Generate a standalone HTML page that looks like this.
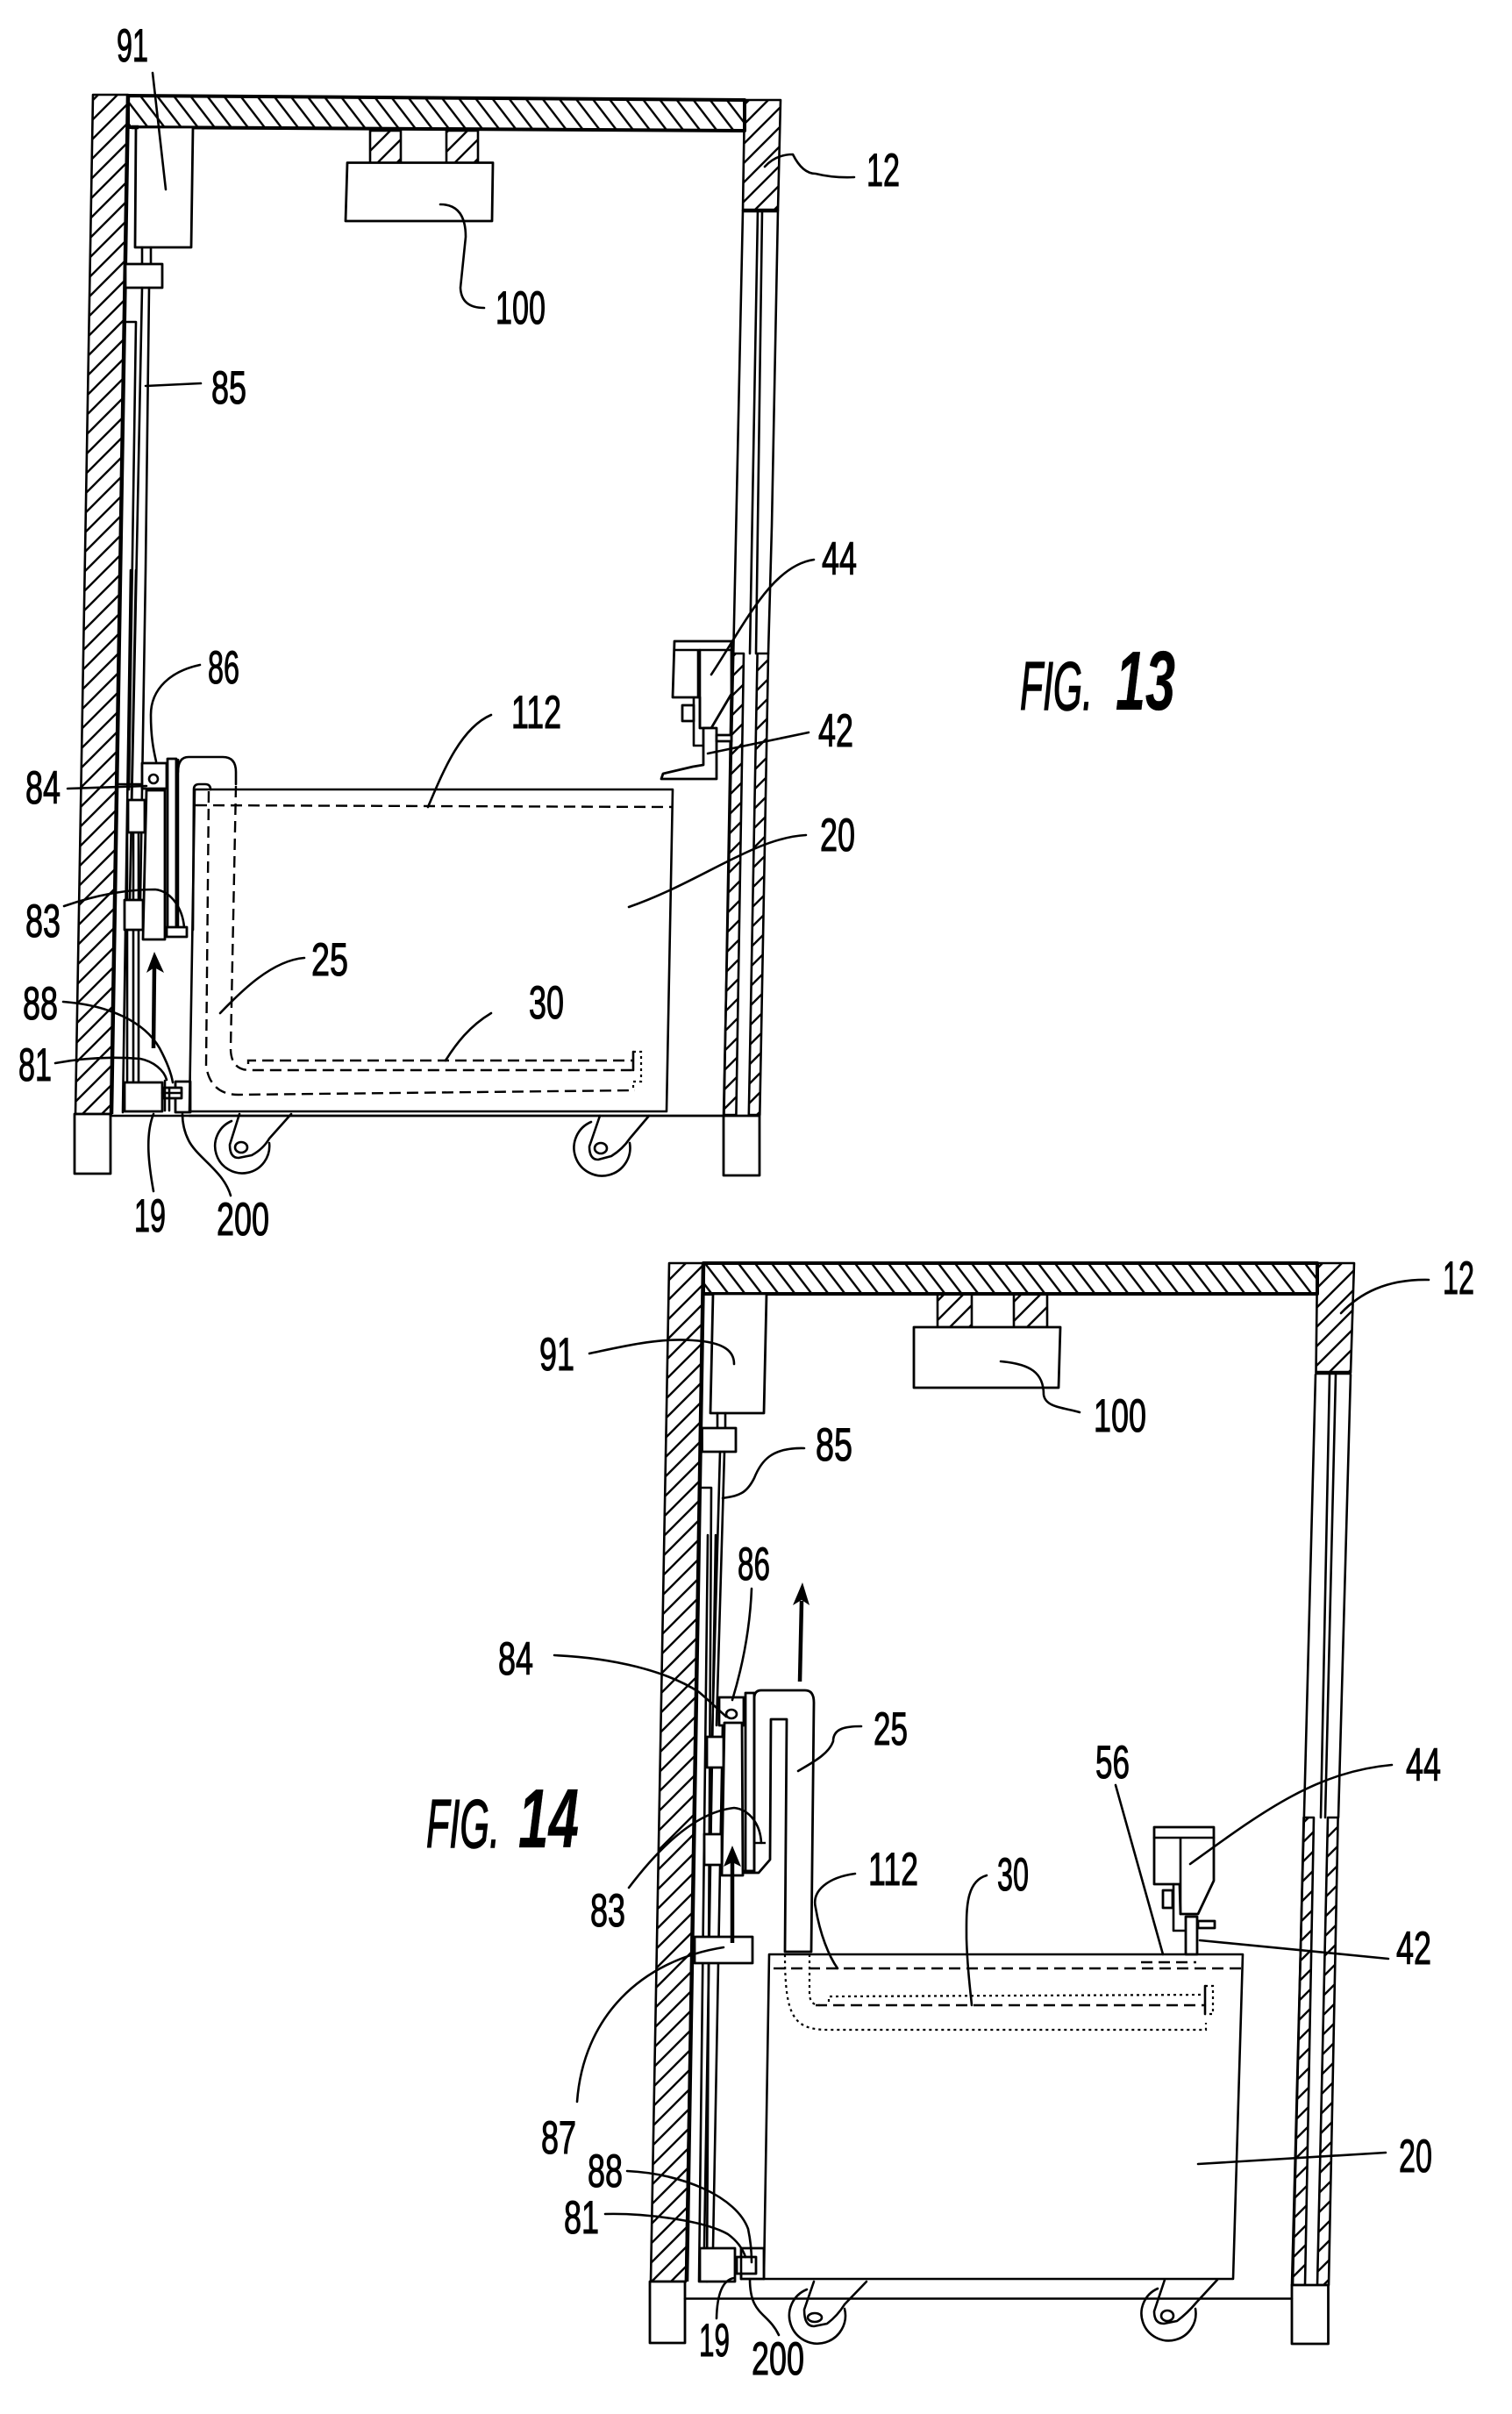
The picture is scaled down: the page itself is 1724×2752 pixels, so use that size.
<!DOCTYPE html>
<html><head><meta charset="utf-8">
<style>
html,body{margin:0;padding:0;background:#fff;width:1724px;height:2752px;overflow:hidden}
svg{display:block}
.l{fill:none;stroke:#000;stroke-width:2.6;stroke-linecap:round;stroke-linejoin:round}
.t{fill:none;stroke:#000;stroke-width:4.5;stroke-linejoin:round}
.w{fill:#fff;stroke:#000;stroke-width:2.8;stroke-linejoin:round}
.d{fill:none;stroke:#000;stroke-width:2.4;stroke-dasharray:13 7}
.o{fill:none;stroke:#000;stroke-width:2.2;stroke-dasharray:3 4}
.hl{fill:url(#hl);stroke:#000;stroke-width:2.6;stroke-linejoin:round}
.hr{fill:url(#hr);stroke:#000;stroke-width:4;stroke-linejoin:round}
text{font-family:"Liberation Sans",sans-serif;font-size:53px;fill:#000;stroke:#000;stroke-width:1.1}
.f{font-style:italic;font-size:78px;stroke-width:1.4}
.g{font-style:italic;font-size:96px;font-weight:bold;stroke-width:.3}
</style></head><body>
<svg width="1724" height="2752" viewBox="0 0 1724 2752" xmlns="http://www.w3.org/2000/svg">
<defs>
<pattern id="hl" width="22" height="22" patternUnits="userSpaceOnUse"><path d="M-4 4L4 -4M0 22L22 0M18 26L26 18" stroke="#000" stroke-width="2.4"/></pattern>
<pattern id="hr" width="19" height="19" patternUnits="userSpaceOnUse" patternTransform="scale(1 1.3)"><path d="M-4 15L4 23M0 0L19 19M15 -4L23 4" stroke="#000" stroke-width="2.2"/></pattern>
</defs>

<!-- FIG 13 -->
<g>
<polygon points="106,108 146,108 127,1270 86,1270" class="hl"/>
<polygon points="146,109 849,114 849,149 146,145" class="hr"/>
<polygon points="849,114 890,114 887,240 847,240" class="hl"/>
<path class="t" d="M146 108L127 1270M847 240H887"/>
<path class="l" d="M847 240L825 1272M887 240L880 600L876 745M864 240L855 745M869 240L862 745"/>
<polygon points="834.5,745 848,745 839.4,1271 825.5,1271" class="hl"/>
<polygon points="863.6,745 876,745 866.3,1271 853.8,1271" class="hl"/>
<polygon points="85,1270 126,1270 126,1338 85,1338" class="w"/>
<polygon points="825,1272 866,1272 866,1340 825,1340" class="w"/>
<path class="l" d="M126 1272H825"/>

<rect x="422" y="149" width="35" height="37" class="hl"/>
<rect x="509" y="149" width="36" height="37" class="hl"/>
<polygon points="396,185.5 562,185.5 561,252 394,252" class="w"/>

<polygon points="155,145 220,145 218,282 154,282" class="w"/>
<path class="t" d="M150 145H158" />
<path class="l" d="M162 282V301M172 282V301"/>
<rect x="143" y="301" width="42" height="27" class="w"/>
<path class="l" d="M162 328L148 1026M170 328L166 650L160 1026M143 367H155L147 900"/>
<path class="l" d="M149 650L140 1268M155 650L150 912M145 949V1026M152 949V1026M158 949V1026M145 1060V1234M152 1060V1234M158 1060V1234"/>
<path class="l" d="M133 894H188"/>
<rect x="146" y="912" width="19" height="37" class="w"/>
<rect x="142" y="1026" width="21" height="34" class="w"/>
<rect x="162" y="870" width="28" height="29" class="w"/>
<ellipse cx="175" cy="888" rx="5" ry="5" class="l"/>
<polygon points="167,901 188,901 188,1071 163,1071" class="w"/>
<rect x="191" y="865" width="10" height="199" class="w"/>
<path class="t" d="M202 865V1064"/>
<rect x="190" y="1057" width="23" height="11" class="w"/>
<path d="M176 1085L187 1109L176 1103L167 1109Z" fill="#000"/>
<path class="t" d="M175 1195L176 1100"/>
<rect x="142" y="1234" width="43" height="33" class="w"/>
<rect x="200" y="1233" width="17" height="35" class="w"/>
<rect x="186" y="1240" width="21" height="12" class="w"/>
<path class="l" d="M188 1232V1266M193 1240V1266M185 1246H207"/>

<path class="l" d="M222 900H767L760 1267H216L222 900"/>
<path class="l" d="M216 1272H825"/>
<path class="l" d="M203 880Q203 863 215 863H254Q269 863 269 880V894"/>
<path class="l" d="M220 1060L221 900Q221 894 227 894H234Q240 894 240 900"/>
<path class="d" d="M269 896L263 1195Q263 1220 285 1220H724"/>
<path class="d" d="M238 902L235 1215Q240 1248 272 1248L724 1243"/>
<path class="d" d="M283 1213V1209H722"/>
<path class="o" d="M722 1199H731V1233H722V1243"/>
<path class="l" d="M722 1199V1220"/>
<path class="d" d="M223 918L767 920"/>

<path class="l" d="M273 1270L262 1305Q262 1320 272 1320L287 1317Q300 1310 307 1298L332 1270"/>
<path class="l" d="M264 1278A31 31 0 1 0 307 1303"/>
<ellipse cx="275" cy="1308" rx="7" ry="6" class="l"/>
<path class="l" d="M684 1272L672 1307Q672 1322 682 1322L697 1318Q710 1310 718 1298L740 1272"/>
<path class="l" d="M674 1279A32 32 0 1 0 718 1303"/>
<ellipse cx="685" cy="1309" rx="7" ry="6" class="l"/>

<polygon points="769,731 834,731 834,791 811,830 798,830 798,795 767,795" class="w"/>
<path class="l" d="M769 741H834M796 741V795"/>
<path class="l" d="M798 741V830"/>
<rect x="778" y="804" width="13" height="18" class="w"/>
<path class="l" d="M791 796V850H805"/>
<path class="w" d="M802 830H817V888H754L756 882L790 874L802 872Z"/>
<rect x="817" y="838" width="17" height="7" class="w"/>

<path class="l" d="M174 83L189 216"/>
<path class="l" d="M872 190Q885 176 904 176Q915 198 930 198Q950 203 974 202"/>
<path class="l" d="M502 233Q531 233 531 270L525 328Q526 351 552 351"/>
<path class="l" d="M166 440L229 437"/>
<path class="l" d="M228 758C195 765 172 785 172 815C172 840 175 855 178 868"/>
<path class="l" d="M77 899L167 896"/>
<path class="l" d="M73 1033C110 1020 145 1014 177 1014C195 1016 208 1035 210 1057"/>
<path class="l" d="M72 1142C125 1146 165 1165 182 1195C190 1210 195 1222 197 1234"/>
<path class="l" d="M63 1212C100 1205 135 1205 160 1207C175 1210 187 1220 190 1231"/>
<path class="l" d="M175 1358C170 1330 165 1295 175 1270"/>
<path class="l" d="M263 1363C255 1335 225 1320 215 1300C210 1290 208 1280 208 1270"/>
<path class="l" d="M347 1092C310 1095 275 1130 251 1155"/>
<path class="l" d="M560 815C525 830 505 880 488 920"/>
<path class="l" d="M560 1155C535 1170 520 1190 508 1209"/>
<path class="l" d="M928 638C880 645 850 710 811 769"/>
<path class="l" d="M922 835L807 859"/>
<path class="l" d="M919 952C860 955 800 1005 717 1034"/>

<text x="133" y="70" textLength="36" lengthAdjust="spacingAndGlyphs">91</text>
<text x="988" y="212" textLength="38" lengthAdjust="spacingAndGlyphs">12</text>
<text x="565" y="369" textLength="57" lengthAdjust="spacingAndGlyphs">100</text>
<text x="241" y="460" textLength="40" lengthAdjust="spacingAndGlyphs">85</text>
<text x="937" y="655" textLength="40" lengthAdjust="spacingAndGlyphs">44</text>
<text x="933" y="851" textLength="40" lengthAdjust="spacingAndGlyphs">42</text>
<text x="935" y="970" textLength="40" lengthAdjust="spacingAndGlyphs">20</text>
<text x="237" y="779" textLength="36" lengthAdjust="spacingAndGlyphs">86</text>
<text x="583" y="830" textLength="57" lengthAdjust="spacingAndGlyphs">112</text>
<text x="29" y="916" textLength="40" lengthAdjust="spacingAndGlyphs">84</text>
<text x="29" y="1068" textLength="40" lengthAdjust="spacingAndGlyphs">83</text>
<text x="355" y="1112" textLength="42" lengthAdjust="spacingAndGlyphs">25</text>
<text x="603" y="1161" textLength="40" lengthAdjust="spacingAndGlyphs">30</text>
<text x="26" y="1162" textLength="40" lengthAdjust="spacingAndGlyphs">88</text>
<text x="21" y="1232" textLength="38" lengthAdjust="spacingAndGlyphs">81</text>
<text x="153" y="1404" textLength="36" lengthAdjust="spacingAndGlyphs">19</text>
<text x="247" y="1408" textLength="60" lengthAdjust="spacingAndGlyphs">200</text>
<text class="f" x="1163" y="809" textLength="83" lengthAdjust="spacingAndGlyphs">FIG.</text>
<text class="g" x="1272" y="809" textLength="68" lengthAdjust="spacingAndGlyphs">13</text>
</g>

<!-- FIG 14 -->
<g>
<polygon points="763,1440 802,1440 782,2601 742,2601" class="hl"/>
<polygon points="802,1440 1502,1440 1502,1475 802,1475" class="hr"/>
<polygon points="1502,1440 1544,1440 1540,1565 1500.5,1565" class="hl"/>
<path class="t" d="M802 1440L783 2601M1500 1565H1540"/>
<path class="l" d="M1500 1567L1473 2605M1540 1567L1526 2072M1516 1567L1506 2072M1523 1567L1511 2072"/>
<polygon points="1486.5,2072 1498,2072 1488,2605 1474,2605" class="hl"/>
<polygon points="1514,2072 1525.6,2072 1515,2605 1502,2605" class="hl"/>
<rect x="741" y="2601" width="40" height="70" class="w"/>
<rect x="1473" y="2605" width="41.5" height="67" class="w"/>
<path class="l" d="M781 2620.5H1473"/>

<rect x="1069" y="1475" width="39" height="38" class="hl"/>
<rect x="1156" y="1475" width="38" height="38" class="hl"/>
<polygon points="1042,1513 1209,1513 1207,1582 1042,1582" class="w"/>

<polygon points="813,1475 874,1475 871,1611 810,1611" class="w"/>
<path class="l" d="M818 1611V1628M827 1611V1628"/>
<rect x="800.5" y="1628" width="38.5" height="27" class="w"/>
<path class="l" d="M800 1696H811L806 2601"/>
<path class="l" d="M826 1655L817 1967M821 1655L812 1980M807 1750L797 2601M816 1750L803 2563M824 1967L813 2563"/>
<rect x="806" y="1980" width="19" height="35" class="w"/>
<rect x="803" y="2091" width="20" height="35" class="w"/>
<rect x="820" y="1935" width="28" height="32" class="w"/>
<ellipse cx="834" cy="1954" rx="6" ry="5" class="l"/>
<polygon points="826,1964 846,1964 847,2138 823,2138" class="w"/>
<rect x="850" y="1930" width="10" height="203" class="w"/>
<path class="w" d="M860 1936Q860 1927 868 1927H918Q928 1927 928 1941L925 2225H895L897 1960H879L878 2120L865 2135H848V2133H860Z"/>
<path class="l" d="M860 1930V2133"/>
<path class="d" d="M860 2101H877"/>
<rect x="792" y="2208" width="66" height="30" class="w"/>
<path class="t" d="M835 2215V2120"/>
<path d="M835 2104L845 2128L835 2123L825 2128Z" fill="#000"/>
<path class="t" d="M912 1917L914 1825"/>
<path d="M915 1804L923 1830L914 1824L904 1830Z" fill="#000"/>

<path class="l" d="M877 2228H1417L1406 2598H871L877 2228"/>
<path class="d" d="M882 2244H1416"/>
<path class="o" d="M895 2228C895 2300 905 2314 945 2314H1375V2306"/>
<path class="o" d="M923 2228V2272Q923 2286 935 2286"/>
<path class="d" d="M930 2286H1374"/>
<path class="o" d="M945 2282V2276L1374 2274M1374 2264H1383V2296H1374"/>
<path class="l" d="M1374 2264V2296"/>
<path class="d" d="M1301 2237H1364"/>

<rect x="798" y="2563" width="40" height="38" class="w"/>
<rect x="845" y="2563" width="26" height="35" class="w"/>
<rect x="840" y="2573" width="22" height="19" class="w"/>
<path class="l" d="M845 2573V2598"/>
<path class="l" d="M928 2601L917 2633Q917 2652 928 2652L943 2649Q955 2640 963 2627L988 2601"/>
<path class="l" d="M920 2610A32 32 0 1 0 963 2632"/>
<ellipse cx="929" cy="2642" rx="8" ry="5" class="l"/>
<path class="l" d="M1328 2599L1316 2635Q1316 2649 1327 2649L1342 2646Q1354 2637 1364 2625L1388 2599"/>
<path class="l" d="M1320 2609A31 31 0 1 0 1363 2632"/>
<ellipse cx="1331" cy="2640" rx="7" ry="6" class="l"/>

<polygon points="1316,2083 1384,2083 1384,2144 1366,2182 1346,2182 1345,2148 1316,2148" class="w"/>
<path class="l" d="M1316 2095H1384M1346 2095V2182"/>
<rect x="1326" y="2155" width="11" height="20" class="w"/>
<path class="l" d="M1338 2148V2201H1352"/>
<rect x="1352" y="2185" width="13" height="43" class="w"/>
<rect x="1366" y="2190" width="19" height="8" class="w"/>

<path class="l" d="M632 1887C700 1890 760 1905 797 1929C810 1940 820 1950 828 1957"/>
<path class="l" d="M672 1543C710 1535 750 1525 790 1528C825 1530 837 1540 837 1555"/>
<path class="l" d="M917 1651C880 1650 868 1665 860 1685C850 1705 840 1705 824 1708"/>
<path class="l" d="M1141 1552C1175 1555 1190 1565 1190 1590C1192 1605 1215 1605 1231 1610"/>
<path class="l" d="M1629 1459C1580 1458 1550 1475 1529 1497"/>
<path class="l" d="M857 1811C855 1860 845 1905 835 1938"/>
<path class="l" d="M982 1968C965 1968 950 1970 950 1985C945 2000 925 2010 910 2019"/>
<path class="l" d="M975 2136C945 2140 925 2155 930 2175C935 2205 945 2230 955 2244"/>
<path class="l" d="M1125 2138C1100 2145 1102 2180 1102 2210C1103 2245 1106 2265 1108 2286"/>
<path class="l" d="M1272 2035L1326 2228"/>
<path class="l" d="M1587 2012C1500 2020 1440 2065 1357 2125"/>
<path class="l" d="M1583 2233L1368 2212"/>
<path class="l" d="M1580 2454L1366 2467"/>
<path class="l" d="M658 2396C665 2300 730 2235 825 2220"/>
<path class="l" d="M717 2152C760 2095 800 2065 837 2061C855 2063 867 2080 868 2101"/>
<path class="l" d="M715 2475C780 2478 840 2505 853 2541Q857 2560 857 2579"/>
<path class="l" d="M690 2524C730 2523 800 2530 830 2547Q845 2558 850 2573"/>
<path class="l" d="M817 2643Q818 2600 837 2597"/>
<path class="l" d="M888 2662C875 2635 855 2640 855 2598"/>

<text x="615" y="1562" textLength="40" lengthAdjust="spacingAndGlyphs">91</text>
<text x="930" y="1665" textLength="42" lengthAdjust="spacingAndGlyphs">85</text>
<text x="1247" y="1632" textLength="60" lengthAdjust="spacingAndGlyphs">100</text>
<text x="1645" y="1475" textLength="36" lengthAdjust="spacingAndGlyphs">12</text>
<text x="841" y="1801" textLength="37" lengthAdjust="spacingAndGlyphs">86</text>
<text x="568" y="1909" textLength="40" lengthAdjust="spacingAndGlyphs">84</text>
<text x="996" y="1989" textLength="39" lengthAdjust="spacingAndGlyphs">25</text>
<text x="990" y="2149" textLength="57" lengthAdjust="spacingAndGlyphs">112</text>
<text x="1137" y="2155" textLength="36" lengthAdjust="spacingAndGlyphs">30</text>
<text x="1249" y="2027" textLength="39" lengthAdjust="spacingAndGlyphs">56</text>
<text x="1603" y="2030" textLength="40" lengthAdjust="spacingAndGlyphs">44</text>
<text x="1592" y="2239" textLength="40" lengthAdjust="spacingAndGlyphs">42</text>
<text x="1595" y="2476" textLength="38" lengthAdjust="spacingAndGlyphs">20</text>
<text x="673" y="2196" textLength="40" lengthAdjust="spacingAndGlyphs">83</text>
<text x="617" y="2455" textLength="40" lengthAdjust="spacingAndGlyphs">87</text>
<text x="670" y="2493" textLength="40" lengthAdjust="spacingAndGlyphs">88</text>
<text x="643" y="2546" textLength="40" lengthAdjust="spacingAndGlyphs">81</text>
<text x="797" y="2686" textLength="35" lengthAdjust="spacingAndGlyphs">19</text>
<text x="857" y="2707" textLength="60" lengthAdjust="spacingAndGlyphs">200</text>
<text class="f" x="486" y="2106" textLength="84" lengthAdjust="spacingAndGlyphs">FIG.</text>
<text class="g" x="591" y="2106" textLength="69" lengthAdjust="spacingAndGlyphs">14</text>
</g>
</svg>
</body></html>
